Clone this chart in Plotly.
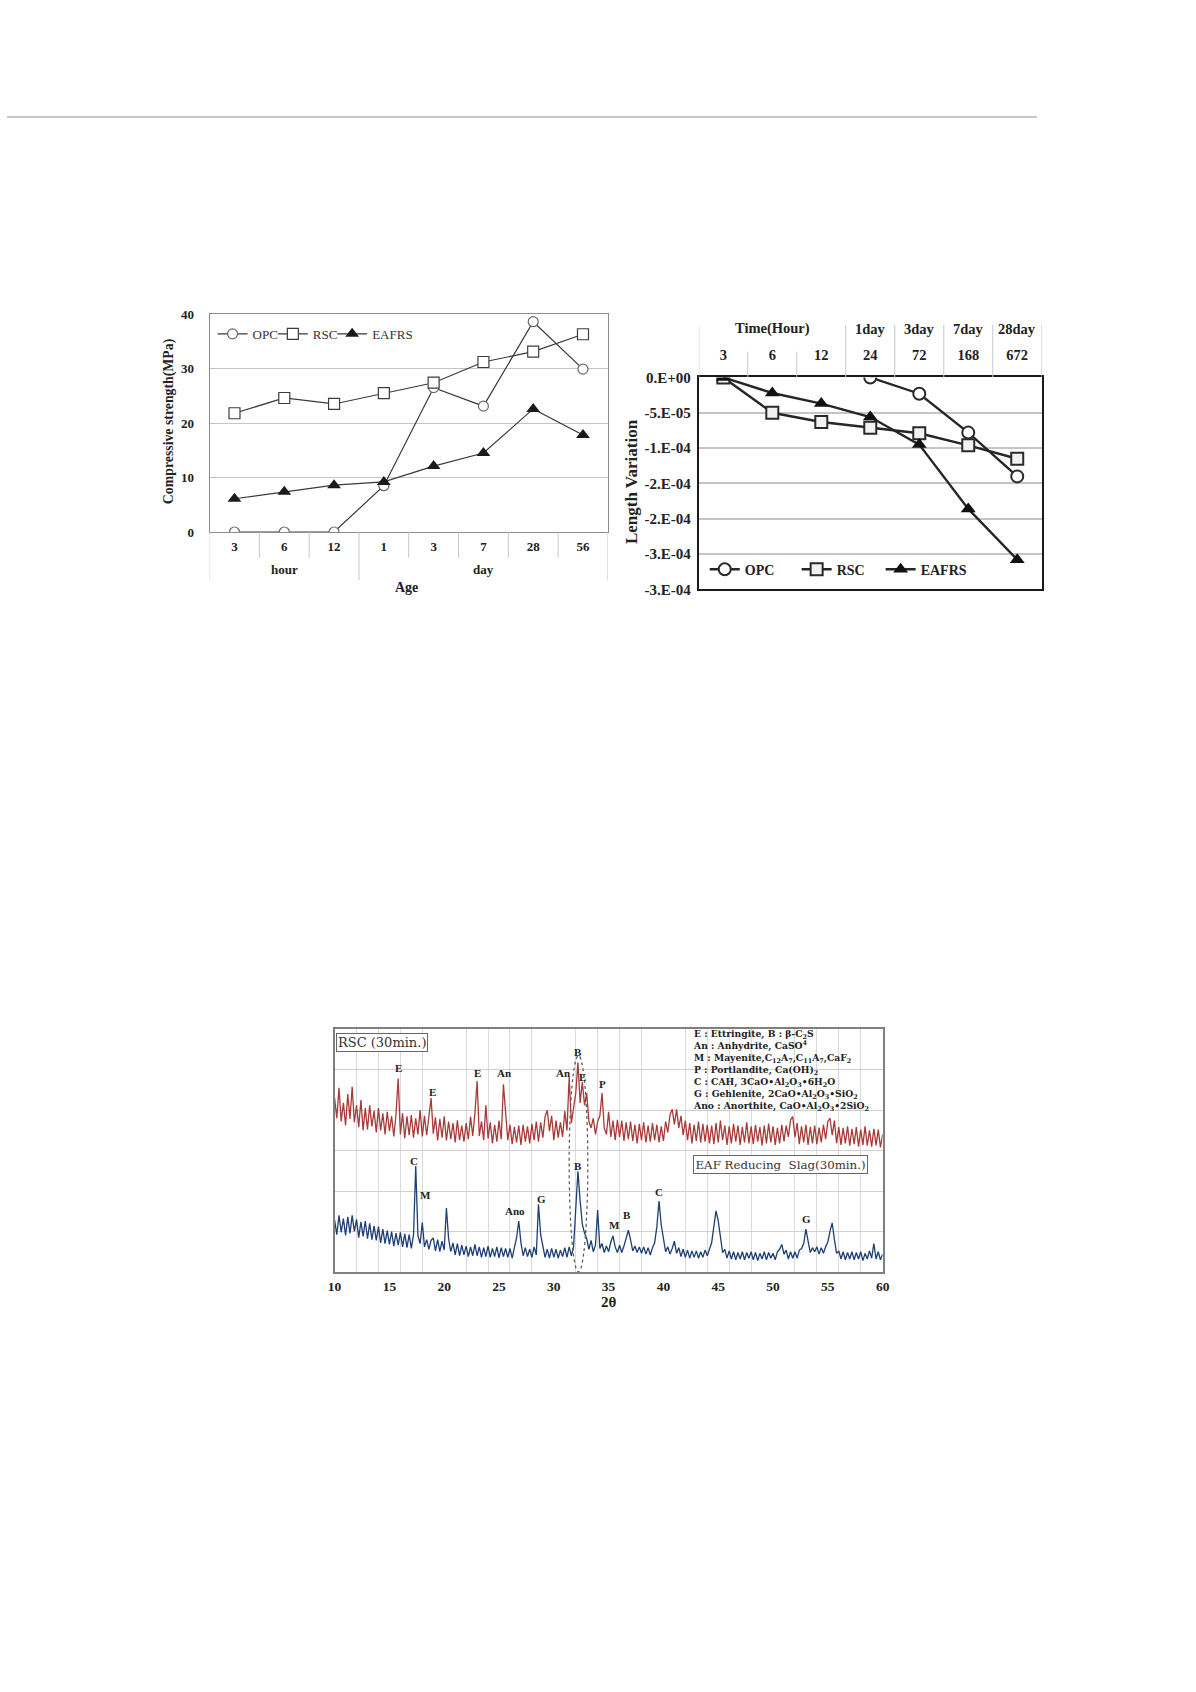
import plotly.graph_objects as go

W, H = 1196, 1692
SERIF = "Liberation Serif, Times New Roman, serif"
WIDE_SERIF = "DejaVu Serif, Liberation Serif, serif"

# ---------------- Chart 1 : compressive strength ----------------
age_labels = ['3', '6', '12', '1', '3', '7', '28', '56']
age_groups = ['hour', 'day']
opc_strength = [0, 0, 0, 8.5, 26.5, 23.1, 38.6, 29.9]
rsc_strength = [21.8, 24.6, 23.5, 25.5, 27.4, 31.2, 33.1, 36.3]
eafrs_strength = [6.1, 7.4, 8.6, 9.2, 12.1, 14.5, 22.6, 17.8]

# ---------------- Chart 2 : length variation ----------------
time_hours = ['3', '6', '12', '24', '72', '168', '672']
time_header = ['Time(Hour)', '1day', '3day', '7day', '28day']
opc_len = [None, None, None, 0.0, -2.3e-5, -7.8e-5, -1.40e-4]
rsc_len = [0.0, -5.0e-5, -6.3e-5, -7.1e-5, -7.9e-5, -9.6e-5, -1.15e-4]
eafrs_len = [0.0, -2.2e-5, -3.7e-5, -5.6e-5, -9.5e-5, -1.86e-4, -2.58e-4]
len_tickvals = [0, -5e-5, -1e-4, -1.5e-4, -2e-4, -2.5e-4, -3e-4]
len_ticktext = ['0.E+00', '-5.E-05', '-1.E-04', '-2.E-04', '-2.E-04', '-3.E-04', '-3.E-04']

# ---------------- Chart 3 : XRD (intensity x100, scan 10..60 step 0.2) ----------------
scan_start, scan_step = 10.0, 0.2
rsc_xrd = [
    430, 380, 455, 372, 418,  362, 440, 378, 458, 370,  412, 358, 425, 350, 405,
    352, 412, 360, 398, 345,  405, 350, 392, 340, 396,  348, 385, 335, 390, 478,
    340, 392, 330, 385, 338,  388, 332, 380, 340, 400,  335, 386, 338, 378, 430,
    342, 382, 325, 378, 332,  385, 325, 372, 328, 368,  320, 375, 326, 362, 322,
    368, 328, 384, 336, 392,  472, 336, 372, 326, 412,  330, 370, 318, 364, 322,
    374, 328, 464, 382, 326,  364, 316, 358, 320, 362,  314, 364, 322, 360, 318,
    366, 326, 372, 322, 370,  332, 384, 400, 348, 386,  326, 374, 332, 370, 334,
    398, 350, 482, 368, 402,  442, 518, 418, 470, 412,  442, 372, 356, 380, 340,
    372, 386, 442, 356, 340,  396, 334, 374, 326, 376,  334, 374, 324, 370, 328,
    372, 324, 364, 318, 366,  326, 370, 320, 362, 322,  368, 326, 364, 320, 360,
    324, 372, 345, 388, 402,  365, 402, 356, 386, 338,  374, 326, 368, 318, 364,
    324, 372, 320, 366, 322,  364, 318, 362, 316, 368,  320, 374, 326, 362, 314,
    360, 318, 366, 322, 362,  314, 358, 320, 370, 318,  360, 316, 364, 322, 358,
    313, 362, 318, 367, 320,  360, 314, 356, 318, 364,  323, 362, 334, 376, 384,
    333, 368, 316, 360, 320,  364, 314, 358, 318, 362,  316, 357, 320, 364, 328,
    372, 380, 338, 374, 318,  358, 314, 356, 318, 360,  312, 354, 316, 358, 310,
    352, 314, 360, 312, 350,  310, 354, 313, 352, 308,  340,
]
eaf_xrd = [
    128, 92, 140, 98, 132,    90, 136, 95, 140, 100,    130, 85, 124, 88, 126,
    82, 120, 80, 114, 78,     112, 72, 106, 70, 102,    68, 100, 64, 96, 66,
    98, 62, 94, 60, 92,       58, 92, 262, 90, 70,      122, 62, 80, 56, 78,
    84, 52, 80, 50, 76,       54, 158, 82, 50, 72,      42, 70, 40, 66, 42,
    64, 38, 62, 40, 68,       40, 62, 36, 60, 38,       64, 36, 58, 38, 62,
    35, 60, 38, 58, 36,       58, 34, 60, 84, 126,      72, 40, 60, 38, 56,
    36, 62, 42, 167, 92,      60, 36, 56, 34, 58,       36, 56, 34, 54, 38,
    60, 36, 62, 40, 62,       150, 249, 176, 118, 96,   82, 56, 78, 50, 66,
    153, 58, 70, 48, 64,      50, 74, 89, 62, 48,       66, 48, 64, 82, 103,
    80, 52, 64, 48, 62,       46, 62, 44, 60, 42,       60, 72, 112, 175, 116,
    78, 50, 62, 44, 58,       76, 46, 60, 38, 56,       36, 54, 34, 52, 36,
    52, 34, 50, 36, 54,       40, 58, 72, 112, 151,     126, 80, 48, 56, 34,
    52, 32, 50, 30, 48,       32, 50, 30, 48, 34,       50, 30, 48, 28, 46,
    32, 50, 30, 48, 34,       46, 30, 50, 56, 68,       44, 54, 32, 50, 34,
    50, 34, 54, 58, 70,       106, 76, 48, 60, 50,      62, 44, 60, 46, 62,
    74, 101, 121, 80, 46,     52, 32, 50, 30, 48,       32, 50, 30, 48, 32,
    50, 28, 46, 32, 52,       34, 70, 32, 50, 30,       44,
]
two_theta = [round(scan_start + scan_step * i, 1) for i in range(len(rsc_xrd))]

rsc_peaks = [('E', 15.8, 5.05), ('E', 18.9, 4.44), ('E', 23.0, 4.93), ('An', 25.5, 4.93),
             ('An', 30.8, 4.93), ('B', 32.2, 5.44), ('E', 32.6, 4.83), ('P', 34.4, 4.65)]
eaf_peaks = [('C', 17.2, 2.74), ('M', 18.3, 1.89), ('Ano', 26.5, 1.5), ('G', 28.9, 1.81),
             ('B', 32.2, 2.62), ('M', 35.5, 1.15), ('B', 36.7, 1.4), ('C', 39.6, 1.98),
             ('G', 53.1, 1.32)]
phase_legend = [
    'E : Ettringite, B : β-C<sub>2</sub>S',
    'An : Anhydrite, CaSO<sup>4</sup>',
    'M : Mayenite,C<sub>12</sub>A<sub>7</sub>,C<sub>11</sub>A<sub>7</sub>,CaF<sub>2</sub>',
    'P : Portlandite, Ca(OH)<sub>2</sub>',
    'C : CAH, 3CaO•Al<sub>2</sub>O<sub>3</sub>•6H<sub>2</sub>O',
    'G : Gehlenite, 2CaO•Al<sub>2</sub>O<sub>3</sub>•SiO<sub>2</sub>',
    'Ano : Anorthite, CaO•Al<sub>2</sub>O<sub>3</sub>•2SiO<sub>2</sub>',
]


def px(xp):
    return xp / W


def py(yp):
    return 1 - yp / H


def bold(s, color='#222', family=SERIF):
    return dict(family=family, size=s, color=color, weight='bold')


def note(text, x, y, font, xref='paper', yref='paper', **kw):
    d = dict(text=text, xref=xref, yref=yref, x=x, y=y, showarrow=False,
             xanchor='center', yanchor='middle', font=font)
    d.update(kw)
    return d


fig = go.Figure()

# ---- chart 1 traces
c1_idx = list(range(len(age_labels)))
line1 = dict(color='#3a3a3a', width=1.2)
fig.add_trace(go.Scatter(x=c1_idx, y=opc_strength, mode='lines+markers', name='OPC',
                         line=line1, legend='legend',
                         marker=dict(symbol='circle', size=10, color='white',
                                     line=dict(color='#6a6a6a', width=1.2)),
                         xaxis='x', yaxis='y'))
fig.add_trace(go.Scatter(x=c1_idx, y=rsc_strength, mode='lines+markers', name='RSC',
                         line=line1, legend='legend2',
                         marker=dict(symbol='square', size=11, color='white',
                                     line=dict(color='#3d3d3d', width=1.2)),
                         xaxis='x', yaxis='y'))
fig.add_trace(go.Scatter(x=c1_idx, y=eafrs_strength, mode='lines+markers', name='EAFRS',
                         line=line1, legend='legend3',
                         marker=dict(symbol='triangle-up', size=12, color='#1a1a1a'),
                         xaxis='x', yaxis='y'))

# ---- chart 2 traces
c2_idx = list(range(len(time_hours)))
line2 = dict(color='#262626', width=2.4)
fig.add_trace(go.Scatter(x=c2_idx, y=opc_len, mode='lines+markers', name='OPC',
                         line=line2, legend='legend4',
                         marker=dict(symbol='circle', size=12, color='white',
                                     line=dict(color='#2a2a2a', width=2)),
                         xaxis='x2', yaxis='y2'))
fig.add_trace(go.Scatter(x=c2_idx, y=rsc_len, mode='lines+markers', name='RSC',
                         line=line2, legend='legend5',
                         marker=dict(symbol='square', size=12, color='#f2f2f2',
                                     line=dict(color='#2a2a2a', width=2)),
                         xaxis='x2', yaxis='y2'))
fig.add_trace(go.Scatter(x=c2_idx, y=eafrs_len, mode='lines+markers', name='EAFRS',
                         line=line2, legend='legend6',
                         marker=dict(symbol='triangle-up', size=13, color='#111111'),
                         xaxis='x2', yaxis='y2'))

# ---- chart 3 traces
fig.add_trace(go.Scatter(x=two_theta, y=[v / 100 for v in rsc_xrd], mode='lines',
                         line=dict(color='#a83a3a', width=1.3), showlegend=False,
                         xaxis='x3', yaxis='y3'))
fig.add_trace(go.Scatter(x=two_theta, y=[v / 100 for v in eaf_xrd], mode='lines',
                         line=dict(color='#1e3f73', width=1.3), showlegend=False,
                         xaxis='x3', yaxis='y3'))

shapes = []
annotations = []

# top rule
shapes.append(dict(type='line', xref='paper', yref='paper', x0=0, x1=px(1042),
                   y0=py(110), y1=py(110), line=dict(color='#c6c6c6', width=2)))

# chart 1 category table separators
for k in range(len(age_labels) + 1):
    xb = k - 0.5
    long_sep = k in (0, 3, len(age_labels))
    shapes.append(dict(type='line', xref='x', yref='paper', x0=xb, x1=xb,
                       y0=py(529), y1=py(578 if long_sep else 555),
                       line=dict(color='#c8c8c8', width=1)))
annotations.append(note(age_groups[0], 1, py(567), bold(13), xref='x'))
annotations.append(note(age_groups[1], 5, py(567), bold(13), xref='x'))
annotations.append(note('Age', px(404), py(585), bold(14)))
annotations.append(note('Compressive strength(MPa)', px(164), py(418), bold(13.8), textangle=-90))

# chart 2 header separators
for k in range(len(time_hours) + 1):
    xb = k - 0.5
    short_sep = k in (1, 2)
    shapes.append(dict(type='line', xref='x2', yref='paper', x0=xb, x1=xb,
                       y0=py(373), y1=py(347 if short_sep else 320),
                       line=dict(color='#c8c8c8', width=1)))
header_pos = [1, 3, 4, 5, 6]
for txt, xc in zip(time_header, header_pos):
    annotations.append(note(txt, xc, py(324), bold(14.5), xref='x2'))
annotations.append(note('Length Variation', px(632), py(478), bold(17), textangle=-90))

# chart 3 decorations
shapes.append(dict(type='circle', xref='x3', yref='y3', x0=31.4, x1=33.1, y0=0.0, y1=5.35,
                   line=dict(color='#555555', width=1.2, dash='dot')))
for lab, xx, yy in rsc_peaks + eaf_peaks:
    annotations.append(note(lab, xx, yy, bold(11), xref='x3', yref='y3'))
annotations.append(note('<br>'.join(phase_legend), px(692), py(1073), bold(9.2, family=WIDE_SERIF),
                        xanchor='left', align='left'))
annotations.append(note('RSC (30min.)', px(379), py(1044), dict(family=WIDE_SERIF, size=13, color='#333'),
                        bgcolor='white', bordercolor='#666', borderwidth=1, borderpad=1))
annotations.append(note('EAF Reducing\u00a0 Slag(30min.)', px(783), py(1167.5),
                        dict(family=WIDE_SERIF, size=11.8, color='#333'),
                        bgcolor='white', bordercolor='#666', borderwidth=1, borderpad=1.5))
annotations.append(note('2θ', px(609), py(1306), bold(15)))

leg_common = dict(orientation='h', xanchor='left', yanchor='middle', bgcolor='rgba(0,0,0,0)',
                  borderwidth=0, tracegroupgap=0)
leg1_font = dict(family=SERIF, size=13, color='#333')

fig.update_layout(
    width=W, height=H, margin=dict(l=0, r=0, t=0, b=0),
    paper_bgcolor='white', plot_bgcolor='white',
    font=dict(family=SERIF),
    xaxis=dict(domain=[px(205), px(608)], anchor='y', range=[-0.5, 7.5],
               tickvals=c1_idx, ticktext=age_labels, ticks='', tickfont=bold(13),
               showgrid=False, zeroline=False, showline=True, mirror=True,
               linecolor='#8c8c8c', linewidth=1, ticklabelstandoff=2),
    yaxis=dict(domain=[py(529), py(309)], anchor='x', range=[0, 40], dtick=10, ticks='',
               tickfont=bold(13), gridcolor='#c4c4c4', gridwidth=1, zeroline=False,
               showline=True, mirror=True, linecolor='#8c8c8c', linewidth=1,
               ticklabelstandoff=12),
    xaxis2=dict(domain=[px(700), px(1047)], anchor='y2', side='top', range=[-0.5, 6.5],
                tickvals=c2_idx, ticktext=time_hours, ticks='', tickfont=bold(14.5),
                showgrid=False, zeroline=False, showline=True, mirror=True,
                linecolor='#1a1a1a', linewidth=2, ticklabelstandoff=10),
    yaxis2=dict(domain=[py(587), py(373)], anchor='x2', range=[-3e-4, 0],
                tickvals=len_tickvals, ticktext=len_ticktext, ticks='', tickfont=bold(15),
                gridcolor='#c4c4c4', gridwidth=1.5, zeroline=False, showline=True, mirror=True,
                linecolor='#1a1a1a', linewidth=2, ticklabelstandoff=3),
    xaxis3=dict(domain=[px(331.5), px(886)], anchor='y3', range=[10, 60], tick0=10, dtick=5,
                ticks='', tickfont=bold(13.5), showgrid=False, zeroline=False,
                minor=dict(tick0=10, dtick=2, showgrid=True, gridcolor='#dadada', gridwidth=1),
                showline=True, mirror=True, linecolor='#7f7f7f', linewidth=1.5,
                ticklabelstandoff=1),
    yaxis3=dict(domain=[py(1276), py(1031)], anchor='x3', range=[0, 6], dtick=1,
                showticklabels=False, ticks='', gridcolor='#d0d0d0', gridwidth=1,
                zeroline=False, showline=True, mirror=True, linecolor='#7f7f7f', linewidth=1.5),
    legend=dict(x=px(208), y=py(329), font=leg1_font, **leg_common),
    legend2=dict(x=px(269), y=py(329), font=leg1_font, **leg_common),
    legend3=dict(x=px(329), y=py(329), font=leg1_font, **leg_common),
    legend4=dict(x=px(706), y=py(567), font=bold(14), **leg_common),
    legend5=dict(x=px(799), y=py(567), font=bold(14), **leg_common),
    legend6=dict(x=px(884), y=py(567), font=bold(14), **leg_common),
    shapes=shapes, annotations=annotations,
)

fig.write_html('out.html', config={'displayModeBar': False},
               post_script="document.body.style.margin='0';document.body.style.overflow='hidden';")
